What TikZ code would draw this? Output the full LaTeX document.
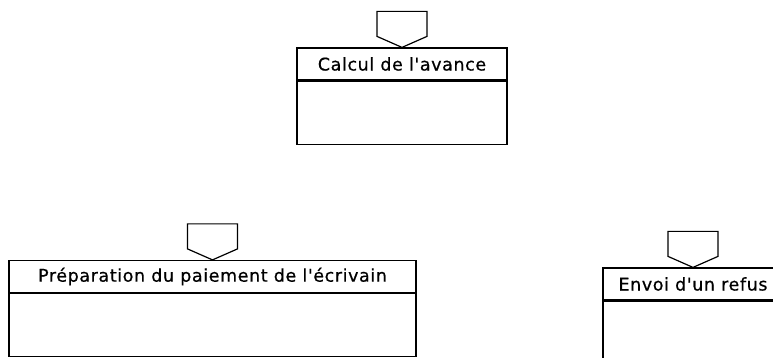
\documentclass[tikz,border=0pt]{standalone}
\usepackage{fontspec}
\newfontfamily\boxfont[LetterSpace=3.4, FakeBold=0.6]{DejaVu Sans}
\usetikzlibrary{positioning}

\begin{document}
\begin{tikzpicture}[
        x=1pt, y=1pt,
        head/.style={rectangle, draw, line width=1.2pt, minimum height=32pt, inner sep=0pt, font=\boxfont\fontsize{17.5}{21}\selectfont},
        body/.style={rectangle, draw, line width=1.2pt, minimum height=63pt, inner sep=0pt},
        trigger/.style={draw, line width=1.2pt, line join=miter},
    ]
        \useasboundingbox (0,0) rectangle (773,358);

        % Calcul
        \node[head, minimum width=210pt] (avance) at (402,294) {Calcul de l'avance};
        \node[body, minimum width=210pt, below=0pt of avance] (avancebody) {};

        % Paiement
        \node[head, minimum width=407pt] (paiement) at (212.5,81.5) {Préparation du paiement de l'écrivain};
        \node[body, minimum width=407pt, below=0pt of paiement] (paiementbody) {};

        % Refus
        \node[head, minimum width=180pt] (refus) at (693,74) {Envoi d'un refus};
        \node[body, minimum width=180pt, below=0pt of refus] (refusbody) {};

        % Triggers
        \foreach \n in {avance, paiement, refus}
            \draw[trigger] (\n.north) -- ++(-25,11) -- ++(0,25) -- ++(50,0) -- ++(0,-25) -- cycle;

    \end{tikzpicture}
\end{document}
